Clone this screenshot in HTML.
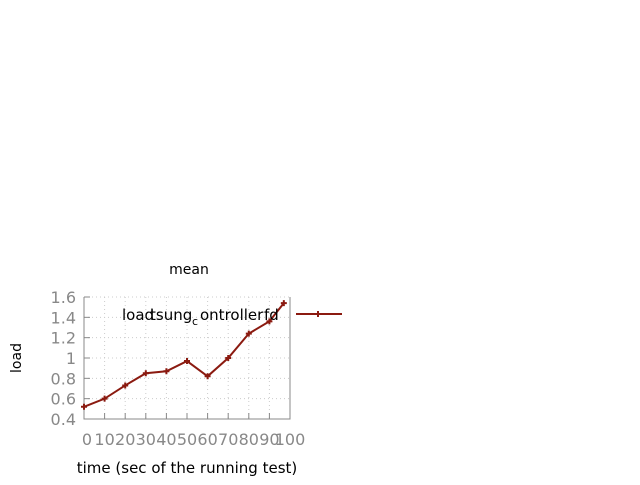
<!DOCTYPE html>
<html><head><meta charset="utf-8"><style>
body{margin:0;background:#fff;width:640px;height:480px;overflow:hidden}
svg text{font-family:"DejaVu Sans","Liberation Sans",sans-serif}
</style></head><body>
<svg id="chart" width="640" height="480" xmlns="http://www.w3.org/2000/svg">
<text x="189" y="274" font-size="14" text-anchor="middle" fill="#000">mean</text>
<text x="21" y="358" font-size="14" text-anchor="middle" transform="rotate(-90 21 358)">load</text>
<text x="187" y="473" font-size="15" text-anchor="middle">time (sec of the running test)</text>
<g id="grid"></g>
<g id="axes"></g>
<g id="series"></g>
<g>
<text x="122" y="320" font-size="15" fill="#000">load</text>
<text x="150" y="320" font-size="15" fill="#000">tsung</text>
<text x="192" y="325" font-size="11" fill="#000">c</text>
<text x="200" y="320" font-size="15" fill="#000">ontroller</text>
<text x="264" y="320" font-size="15" fill="#000">fd</text>
<line x1="296" y1="314" x2="342" y2="314" stroke="#8b1a10" stroke-width="2"/>
<path d="M315 314h6M318 311v6" stroke="#8b1a10" stroke-width="2"/>
</g>
</svg>
<script>
const xValues=[0,10,20,30,40,50,60,70,80,90,97];
const loadValues=[0.52,0.6,0.73,0.85,0.87,0.97,0.82,1.0,1.24,1.36,1.54];
const xTicks=[0,10,20,30,40,50,60,70,80,90,100];
const xTickLabels=["0","10","20","30","40","50","60","70","80","90","100"];
const yTicks=[0.4,0.6,0.8,1,1.2,1.4,1.6];
const yTickLabels=["0.4","0.6","0.8","1","1.2","1.4","1.6"];
const NS="http://www.w3.org/2000/svg";
const X0=84,X1=290,Y0=419,Y1=297;
const sx=v=>X0+(v-0)/(100-0)*(X1-X0);
const sy=v=>Y0-(v-0.4)/(1.6-0.4)*(Y0-Y1);
function mk(tag,attrs,parent){const e=document.createElementNS(NS,tag);for(const k in attrs)e.setAttribute(k,attrs[k]);parent.appendChild(e);return e;}
const grid=document.getElementById('grid'),axes=document.getElementById('axes'),ser=document.getElementById('series');
xTicks.forEach((t,i)=>{
 const g=mk('line',{x1:sx(t),x2:sx(t),y1:Y1,y2:Y0,stroke:'#ccc','stroke-dasharray':'1,3'},grid);
 
 
 const tk=mk('line',{x1:sx(t),x2:sx(t),y1:Y0,y2:Y0-6,stroke:'#888'},axes);
 
 
 const tx=mk('text',{x:sx(t)+(t===0?3:0),y:445,'font-size':16,fill:'#888','text-anchor':'middle'},axes);
 tx.textContent=xTickLabels[i];
 
 
});
yTicks.forEach((t,i)=>{
 const g=mk('line',{x1:X0,x2:X1,y1:sy(t),y2:sy(t),stroke:'#ccc','stroke-dasharray':'1,3'},grid);
 
 
 const tk=mk('line',{x1:X0,x2:X0+6,y1:sy(t),y2:sy(t),stroke:'#888'},axes);
 
 
 const tx=mk('text',{x:76,y:sy(t)+6,'font-size':16,fill:'#888','text-anchor':'end'},axes);
 tx.textContent=yTickLabels[i];
 
 
});
const ax=mk('path',{d:`M${X0} ${Y1}V${Y0}H${X1}V${Y1}`,fill:'none',stroke:'#888'},axes);


const pts=xValues.map((x,i)=>[sx(x),sy(loadValues[i])]);
const ln=mk('polyline',{points:pts.map(p=>p.join(',')).join(' '),fill:'none',stroke:'#8b1a10','stroke-width':2},ser);


pts.forEach(p=>{
 const m=mk('path',{d:`M${p[0]-3} ${p[1]}h6M${p[0]} ${p[1]-3}v6`,stroke:'#8b1a10','stroke-width':2},ser);
 
 
});
</script>
</body></html>
